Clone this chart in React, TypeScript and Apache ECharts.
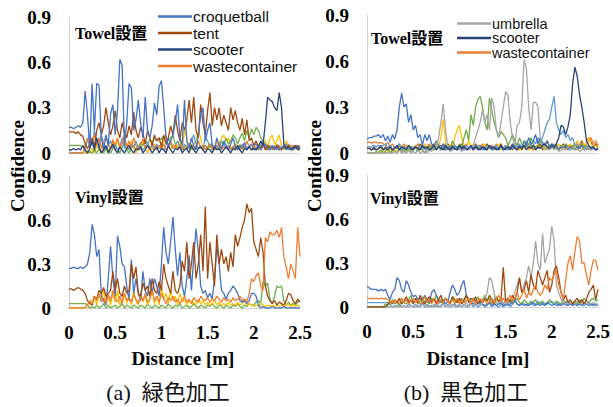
import React, { useEffect, useRef } from "react";
import * as echarts from "echarts";

// ---- axis / text data ----
const DIST_STEP = 0.025; // m between samples
const X_TICKS = [0, 0.5, 1, 1.5, 2, 2.5];
const Y_TICKS = [0, 0.3, 0.6, 0.9];
const PANEL_LABELS = ["Towel設置", "Vinyl設置", "Towel設置", "Vinyl設置"];
const LEGEND_A = ["croquetball", "tent", "scooter", "wastecontainer"];
const LEGEND_B = ["umbrella", "scooter", "wastecontainer"];
const CAPTIONS = ["(a)  緑色加工", "(b)  黒色加工"];

// ---- (a) green, Towel ----
const A_croquetball = [
  0.17, 0.17, 0.16, 0.17, 0.18, 0.17, 0.2, 0.41, 0.25, 0.03,
  0.46, 0.15, 0.46, 0.45, 0.1, 0.02, 0.12, 0.05, 0.26, 0.32,
  0.12, 0.28, 0.62, 0.58, 0.05, 0.2, 0.46, 0.43, 0.15, 0.22,
  0.35, 0.2, 0.1, 0.37, 0.15, 0.1, 0.18, 0.33, 0.25, 0.44,
  0.48, 0.3, 0.1, 0.05, 0.08, 0.12, 0.2, 0.32, 0.1, 0.05,
  0.35, 0.08, 0.03, 0.1, 0.05, 0.02, 0.12, 0.25, 0.3, 0.08,
  0.15, 0.2, 0.05, 0.02, 0.1, 0.05, 0.03, 0.08, 0.05, 0.02,
  0.06, 0.1, 0.04, 0.02, 0.05, 0.03, 0.07, 0.02, 0.04, 0.06,
  0.02, 0.03, 0.05, 0.02, 0.04, 0.06, 0.03, 0.02, 0.05, 0.03,
  0.04, 0.02, 0.03, 0.05, 0.02, 0.04, 0.03, 0.02, 0.04, 0.03,
  0.04,
];
const A_tent = [
  0.14, 0.14, 0.14, 0.13, 0.14, 0.12, 0.11, 0.06, 0.03, 0.06,
  0.1, 0.04, 0.15, 0.2, 0.12, 0.18, 0.3, 0.2, 0.12, 0.18,
  0.28, 0.15, 0.1, 0.2, 0.14, 0.1, 0.18, 0.12, 0.27, 0.15,
  0.1, 0.17, 0.13, 0.06, 0.15, 0.1, 0.05, 0.12, 0.08, 0.1,
  0.04, 0.12, 0.06, 0.1, 0.18, 0.12, 0.25, 0.15, 0.08, 0.2,
  0.15, 0.22, 0.35, 0.2, 0.37, 0.15, 0.1, 0.32, 0.2, 0.12,
  0.28, 0.4, 0.18, 0.3, 0.22, 0.3, 0.18, 0.25, 0.2, 0.15,
  0.3, 0.22, 0.28, 0.2, 0.15, 0.23, 0.12, 0.22, 0.08, 0.1,
  0.05, 0.08, 0.04, 0.03, 0.06, 0.02, 0.05, 0.03, 0.04, 0.02,
  0.05, 0.03, 0.02, 0.04, 0.03, 0.05, 0.02, 0.04, 0.03, 0.05,
  0.03,
];
const A_scooter = [
  0.02, 0.02, 0.03, 0.02, 0.03, 0.02, 0.05, 0.02, 0, 0.03,
  0.08, 0.02, 0.1, 0.04, 0, 0.02, 0.05, 0, 0.03, 0.06,
  0.02, 0, 0.04, 0.02, 0, 0.03, 0.05, 0.02, 0, 0.03,
  0.02, 0.04, 0, 0.02, 0.05, 0.03, 0, 0.02, 0.04, 0,
  0.03, 0.02, 0, 0.05, 0.02, 0, 0.03, 0.02, 0.04, 0,
  0.02, 0.03, 0, 0.05, 0.02, 0, 0.03, 0.04, 0.02, 0,
  0.03, 0.02, 0, 0.04, 0.02, 0.03, 0, 0.02, 0.04, 0.02,
  0, 0.03, 0.02, 0.05, 0.02, 0, 0.03, 0.02, 0.04, 0.02,
  0.03, 0.02, 0.04, 0.08, 0.05, 0.2, 0.37, 0.35, 0.34, 0.3,
  0.28, 0.4, 0.3, 0.06, 0.03, 0.04, 0.02, 0.03, 0.05, 0.02,
  0.03,
];
const A_wastecontainer = [
  0, 0, 0, 0, 0, 0, 0, 0.05, 0.1, 0.04,
  0.08, 0.12, 0.05, 0.1, 0.03, 0.08, 0.1, 0.06, 0.02, 0.09,
  0.05, 0.1, 0.03, 0.07, 0.12, 0.04, 0.08, 0.03, 0.1, 0.05,
  0.02, 0.06, 0.09, 0.03, 0.05, 0.02, 0.07, 0.04, 0.02, 0.05,
  0.03, 0.06, 0.02, 0.04, 0.08, 0.03, 0.05, 0.02, 0.06, 0.03,
  0.02, 0.05, 0.03, 0.06, 0.02, 0.04, 0.08, 0.03, 0.05, 0.02,
  0.04, 0.06, 0.02, 0.05, 0.03, 0.07, 0.02, 0.04, 0.03, 0.05,
  0.02, 0.04, 0.06, 0.03, 0.02, 0.05, 0.03, 0.08, 0.04, 0.02,
  0.05, 0.03, 0.02, 0.04, 0.06, 0.03, 0.02, 0.05, 0.04, 0.03,
  0.06, 0.04, 0.02, 0.05, 0.03, 0.06, 0.04, 0.05, 0.03, 0.04,
  0.05,
];
const A_green = [
  0.05, 0.05, 0.05, 0.05, 0.05, 0.05, 0.04, 0.02, 0, 0.01,
  0, 0.02, 0, 0.03, 0.01, 0, 0.04, 0.02, 0, 0.03,
  0.05, 0.02, 0, 0.04, 0.06, 0.02, 0, 0.03, 0.05, 0.02,
  0.04, 0.07, 0.05, 0.08, 0.06, 0.09, 0.07, 0.1, 0.08, 0.1,
  0.09, 0.11, 0.1, 0.08, 0.1, 0.12, 0.06, 0.03, 0.05, 0.02,
  0.04, 0.02, 0.06, 0.03, 0.02, 0.05, 0.03, 0.04, 0.02, 0.05,
  0.03, 0.06, 0.04, 0.02, 0.05, 0.03, 0.08, 0.05, 0.1, 0.06,
  0.08, 0.12, 0.1, 0.06, 0.1, 0.13, 0.08, 0.15, 0.1, 0.16,
  0.12, 0.17, 0.15, 0.1, 0.08, 0.05, 0.03, 0.04, 0.02, 0.05,
  0.03, 0.02, 0.04, 0.03, 0.05, 0.02, 0.04, 0.03, 0.05, 0.04,
  0.03,
];
const A_yellow = [
  0, 0, 0, 0, 0, 0, 0, 0, 0.02, 0,
  0.03, 0, 0.05, 0.02, 0, 0.06, 0.02, 0, 0.04, 0.08,
  0.02, 0.1, 0.03, 0.06, 0.1, 0.02, 0.05, 0.08, 0.03, 0,
  0.05, 0.02, 0.07, 0.03, 0, 0.04, 0.02, 0.06, 0.03, 0.05,
  0.02, 0.08, 0.12, 0.04, 0.02, 0.06, 0.03, 0.05, 0.08, 0.02,
  0.15, 0.1, 0.04, 0.02, 0.06, 0.08, 0.15, 0.1, 0.03, 0.05,
  0.02, 0.04, 0.06, 0.03, 0.08, 0.05, 0.1, 0.12, 0.08, 0.1,
  0.04, 0.02, 0.05, 0.03, 0.06, 0.02, 0.04, 0.03, 0.05, 0.02,
  0.04, 0.02, 0.06, 0.03, 0.05, 0.08, 0.04, 0.1, 0.12, 0.06,
  0.08, 0.12, 0.04, 0.02, 0.08, 0.05, 0.03, 0.02, 0.04, 0.03,
  0.02,
];
const A_lightblue = [
  0, 0, 0, 0, 0, 0, 0, 0.03, 0.08, 0.12,
  0.05, 0.15, 0.08, 0.03, 0.12, 0.06, 0.02, 0.05, 0.08, 0.03,
  0.06, 0.02, 0.04, 0.1, 0.03, 0.05, 0.02, 0.06, 0.04, 0.08,
  0.03, 0.05, 0.02, 0.04, 0.07, 0.03, 0.05, 0.02, 0.06, 0.03,
  0.04, 0.02, 0.05, 0.1, 0.06, 0.03, 0.05, 0.08, 0.04, 0.02,
  0.06, 0.03, 0.05, 0.08, 0.12, 0.06, 0.03, 0.05, 0.02, 0.1,
  0.08, 0.04, 0.06, 0.03, 0.05, 0.02, 0.04, 0.06, 0.03, 0.05,
  0.02, 0.04, 0.03, 0.05, 0.02, 0.06, 0.04, 0.03, 0.05, 0.02,
  0.04, 0.06, 0.03, 0.05, 0.08, 0.04, 0.02, 0.05, 0.03, 0.04,
  0.02, 0.05, 0.03, 0.04, 0.06, 0.02, 0.05, 0.03, 0.04, 0.05,
  0.03,
];

// ---- (a) green, Vinyl ----
const B_croquetball = [
  0.27, 0.27, 0.28, 0.27, 0.27, 0.28, 0.27, 0.28, 0.3, 0.38,
  0.57, 0.5, 0.35, 0.4, 0.08, 0.05, 0.02, 0.2, 0.42, 0.2,
  0.08, 0.49, 0.42, 0.3, 0.28, 0.15, 0.05, 0.33, 0.1, 0.2,
  0.1, 0.05, 0.25, 0.12, 0.08, 0.2, 0.1, 0.2, 0.15, 0.08,
  0.3, 0.55, 0.38, 0.3, 0.45, 0.62, 0.4, 0.22, 0.38, 0.15,
  0.08, 0.2, 0.36, 0.12, 0.35, 0.54, 0.38, 0.15, 0.1, 0.12,
  0.07, 0.1, 0.06, 0.2, 0.42, 0.3, 0.12, 0.1, 0.06, 0.1,
  0.12, 0.15, 0.13, 0.1, 0.05, 0.04, 0.05, 0.03, 0.05, 0.1,
  0.1, 0.08, 0.02, 0, 0.01, 0, 0, 0, 0.01, 0,
  0, 0, 0, 0.01, 0, 0, 0, 0, 0, 0,
  0,
];
const B_tent = [
  0.13, 0.13, 0.12, 0.13, 0.14, 0.13, 0.12, 0.1, 0.05, 0.03,
  0.02, 0.08, 0.06, 0.12, 0.1, 0.14, 0.08, 0.1, 0.12, 0.25,
  0.12, 0.2, 0.1, 0.08, 0.15, 0.1, 0.12, 0.3, 0.2, 0.28,
  0.1, 0.08, 0.17, 0.12, 0.15, 0.08, 0.2, 0.12, 0.1, 0.18,
  0.12, 0.3, 0.2, 0.15, 0.1, 0.25, 0.12, 0.1, 0.15, 0.32,
  0.25, 0.45, 0.2, 0.3, 0.45, 0.2, 0.3, 0.5, 0.25, 0.69,
  0.2, 0.45, 0.3, 0.15, 0.5, 0.3, 0.4, 0.3, 0.35, 0.25,
  0.38, 0.28, 0.5, 0.42, 0.48, 0.55, 0.6, 0.71, 0.65, 0.68,
  0.45, 0.4, 0.35, 0.48, 0.38, 0.15, 0.08, 0.05, 0.03, 0.05,
  0.02, 0.04, 0.03, 0.02, 0.05, 0.1, 0.09, 0.05, 0.03, 0.06,
  0.04,
];
const B_wastecontainer = [
  0, 0, 0, 0, 0, 0, 0, 0, 0.02, 0.05,
  0.03, 0.08, 0.05, 0.1, 0.04, 0.07, 0.03, 0.09, 0.05, 0.12,
  0.06, 0.04, 0.08, 0.03, 0.1, 0.05, 0.07, 0.04, 0.09, 0.06,
  0.03, 0.08, 0.05, 0.1, 0.04, 0.06, 0.12, 0.05, 0.08, 0.04,
  0.1, 0.06, 0.03, 0.07, 0.05, 0.08, 0.04, 0.06, 0.03, 0.05,
  0.08, 0.04, 0.06, 0.03, 0.07, 0.05, 0.04, 0.08, 0.06, 0.05,
  0.07, 0.04, 0.06, 0.05, 0.08, 0.06, 0.04, 0.07, 0.05, 0.06,
  0.04, 0.07, 0.05, 0.06, 0.08, 0.05, 0.06, 0.04, 0.1, 0.2,
  0.18, 0.22, 0.24, 0.15, 0.12, 0.48, 0.45, 0.52, 0.5, 0.5,
  0.53, 0.48, 0.55, 0.35, 0.28, 0.2, 0.3, 0.25, 0.2, 0.55,
  0.35,
];
const B_yellow = [
  0, 0, 0, 0, 0, 0, 0, 0, 0.02, 0.05,
  0.03, 0.08, 0.02, 0.1, 0.05, 0.12, 0.03, 0.08, 0.02, 0.1,
  0.04, 0.12, 0.02, 0.06, 0.1, 0.03, 0.08, 0.02, 0.12, 0.05,
  0.02, 0.1, 0.04, 0.08, 0.02, 0.06, 0.12, 0.03, 0.08, 0.02,
  0.15, 0.06, 0.1, 0.03, 0.12, 0.05, 0.08, 0.02, 0.1, 0.04,
  0.06, 0.02, 0.05, 0.03, 0.04, 0.02, 0.06, 0.03, 0.05, 0.02,
  0.04, 0.02, 0.03, 0.05, 0.02, 0.04, 0.02, 0.03, 0.02, 0.04,
  0.02, 0.03, 0.02, 0.04, 0.02, 0.03, 0.05, 0.02, 0.03, 0.02,
  0.01, 0.02, 0.01, 0.03, 0.02, 0.01, 0.02, 0.01, 0.02, 0.01,
  0.02, 0.01, 0.02, 0.01, 0.02, 0.03, 0.01, 0.02, 0.01, 0.02,
  0.01,
];
const B_green = [
  0.03, 0.03, 0.03, 0.03, 0.03, 0.03, 0.03, 0.03, 0.02, 0,
  0.01, 0, 0.02, 0, 0.01, 0.03, 0, 0.02, 0, 0.01,
  0.02, 0, 0.01, 0.03, 0, 0.02, 0.01, 0, 0.02, 0.01,
  0, 0.02, 0.01, 0, 0.03, 0.01, 0, 0.02, 0.01, 0,
  0.02, 0.01, 0, 0.03, 0.01, 0, 0.02, 0.01, 0.03, 0,
  0.01, 0.02, 0, 0.01, 0.03, 0.01, 0, 0.02, 0.01, 0,
  0.02, 0.01, 0.03, 0.01, 0, 0.02, 0.01, 0, 0.02, 0.01,
  0, 0.02, 0.01, 0.03, 0.01, 0, 0.02, 0.01, 0.03, 0.02,
  0.02, 0.04, 0.05, 0.03, 0.18, 0.15, 0.17, 0.06, 0.03, 0.08,
  0.15, 0.14, 0.15, 0.05, 0.02, 0.04, 0.02, 0.03, 0.02, 0.04,
  0.05,
];

// ---- (b) black, Towel ----
const C_blue = [
  0.09, 0.1, 0.1, 0.11, 0.11, 0.12, 0.1, 0.12, 0.08, 0.11,
  0.07, 0.12, 0.09, 0.15, 0.3, 0.39, 0.3, 0.32, 0.2, 0.25,
  0.15, 0.18, 0.1, 0.12, 0.05, 0.12, 0.08, 0.12, 0.06, 0.04,
  0.08, 0.05, 0.03, 0.06, 0.02, 0.04, 0.03, 0.05, 0.02, 0.04,
  0.03, 0.02, 0.05, 0.03, 0.02, 0.04, 0.03, 0.05, 0.02, 0.03,
  0.04, 0.02, 0.03, 0.05, 0.02, 0.04, 0.03, 0.02, 0.05, 0.03,
  0.02, 0.04, 0.03, 0.06, 0.04, 0.02, 0.05, 0.03, 0.08, 0.05,
  0.1, 0.06, 0.08, 0.12, 0.06, 0.1, 0.07, 0.05, 0.08, 0.04,
  0.06, 0.03, 0.05, 0.02, 0.04, 0.03, 0.05, 0.02, 0.04, 0.03,
  0.02, 0.04, 0.03, 0.05, 0.02, 0.03, 0.04, 0.02, 0.03, 0.02,
  0.03,
];
const C_umbrella = [
  0, 0, 0, 0, 0, 0, 0, 0, 0, 0,
  0, 0, 0.01, 0, 0.02, 0, 0.01, 0, 0.02, 0,
  0.01, 0, 0.02, 0, 0.01, 0.03, 0, 0.02, 0.01, 0.05,
  0.03, 0.1, 0.2, 0.32, 0.15, 0.03, 0.01, 0.02, 0.04, 0.02,
  0.03, 0.01, 0.02, 0.04, 0.02, 0.03, 0.05, 0.1, 0.15, 0.2,
  0.28, 0.2, 0.25, 0.15, 0.36, 0.3, 0.15, 0.1, 0.2, 0.3,
  0.4, 0.38, 0.2, 0.1, 0.05, 0.18, 0.2, 0.3, 0.61, 0.55,
  0.3, 0.15, 0.33, 0.33, 0.3, 0.1, 0.04, 0.02, 0.03, 0.02,
  0.04, 0.02, 0.03, 0.01, 0.02, 0.03, 0.02, 0.04, 0.02, 0.03,
  0.02, 0.03, 0.01, 0.02, 0.03, 0.02, 0.04, 0.02, 0.03, 0.02,
  0.03,
];
const C_green = [
  0, 0, 0, 0, 0.01, 0, 0.02, 0, 0.01, 0.03,
  0, 0.02, 0.01, 0, 0.03, 0.01, 0.02, 0, 0.03, 0.01,
  0.02, 0.04, 0.01, 0.03, 0.02, 0, 0.04, 0.02, 0.05, 0.02,
  0.03, 0.05, 0.02, 0.06, 0.03, 0.05, 0.02, 0.08, 0.05, 0.03,
  0.06, 0.04, 0.1, 0.15, 0.08, 0.25, 0.18, 0.3, 0.35, 0.37,
  0.3, 0.2, 0.15, 0.36, 0.28, 0.2, 0.15, 0.1, 0.14, 0.12,
  0.1, 0.05, 0.08, 0.12, 0.08, 0.05, 0.1, 0.06, 0.04, 0.08,
  0.05, 0.1, 0.06, 0.03, 0.05, 0.08, 0.04, 0.06, 0.03, 0.05,
  0.03, 0.06, 0.04, 0.02, 0.05, 0.03, 0.06, 0.04, 0.02, 0.05,
  0.03, 0.02, 0.04, 0.06, 0.03, 0.05, 0.02, 0.04, 0.03, 0.02,
  0.03,
];
const C_yellow = [
  0, 0, 0, 0, 0, 0.01, 0, 0.02, 0, 0.01,
  0.03, 0, 0.02, 0.01, 0.04, 0, 0.02, 0.05, 0.01, 0.03,
  0.02, 0.05, 0.01, 0.04, 0.02, 0.06, 0.03, 0.02, 0.05, 0.03,
  0.06, 0.04, 0.1, 0.22, 0.08, 0.04, 0.06, 0.03, 0.1, 0.15,
  0.18, 0.1, 0.05, 0.03, 0.08, 0.04, 0.06, 0.03, 0.05, 0.02,
  0.04, 0.06, 0.03, 0.05, 0.02, 0.04, 0.03, 0.06, 0.02, 0.04,
  0.03, 0.05, 0.02, 0.04, 0.06, 0.03, 0.02, 0.05, 0.03, 0.04,
  0.02, 0.03, 0.05, 0.02, 0.04, 0.03, 0.06, 0.02, 0.04, 0.03,
  0.05, 0.02, 0.04, 0.06, 0.03, 0.05, 0.02, 0.04, 0.06, 0.03,
  0.05, 0.08, 0.04, 0.02, 0.06, 0.05, 0.1, 0.06, 0.04, 0.05,
  0.03,
];
const C_scooter = [
  0.03, 0.03, 0.02, 0.03, 0.02, 0.03, 0.04, 0.02, 0.03, 0.02,
  0.04, 0.02, 0.03, 0.05, 0.02, 0.04, 0.03, 0.02, 0.05, 0.03,
  0.02, 0.04, 0.03, 0.02, 0.05, 0.03, 0.04, 0.02, 0.03, 0.05,
  0.02, 0.04, 0.03, 0.02, 0.05, 0.03, 0.02, 0.04, 0.03, 0.02,
  0.05, 0.03, 0.04, 0.02, 0.03, 0.05, 0.02, 0.04, 0.03, 0.02,
  0.04, 0.03, 0.02, 0.05, 0.03, 0.04, 0.02, 0.03, 0.05, 0.02,
  0.03, 0.04, 0.02, 0.05, 0.03, 0.02, 0.04, 0.03, 0.05, 0.02,
  0.04, 0.03, 0.05, 0.02, 0.04, 0.03, 0.05, 0.06, 0.04, 0.03,
  0.05, 0.04, 0.06, 0.1, 0.18, 0.17, 0.12, 0.17, 0.25, 0.45,
  0.56, 0.5, 0.38, 0.3, 0.2, 0.08, 0.05, 0.03, 0.04, 0.02,
  0.03,
];
const C_lightblue = [
  0.04, 0.04, 0.04, 0.05, 0.04, 0.05, 0.04, 0.05, 0.06, 0.03,
  0.05, 0.02, 0.04, 0.03, 0.06, 0.02, 0.04, 0.03, 0.05, 0.02,
  0.04, 0.03, 0.02, 0.05, 0.03, 0.04, 0.02, 0.03, 0.05, 0.02,
  0.03, 0.04, 0.02, 0.05, 0.03, 0.02, 0.04, 0.03, 0.05, 0.02,
  0.04, 0.03, 0.02, 0.05, 0.03, 0.04, 0.02, 0.03, 0.05, 0.04,
  0.02, 0.03, 0.05, 0.04, 0.02, 0.03, 0.05, 0.02, 0.04, 0.03,
  0.05, 0.02, 0.04, 0.03, 0.05, 0.04, 0.06, 0.03, 0.05, 0.04,
  0.06, 0.05, 0.08, 0.06, 0.1, 0.07, 0.1, 0.15, 0.2, 0.22,
  0.3, 0.37, 0.2, 0.15, 0.12, 0.15, 0.1, 0.12, 0.08, 0.1,
  0.05, 0.06, 0.03, 0.05, 0.04, 0.02, 0.05, 0.03, 0.04, 0.02,
  0.03,
];
const C_wastecontainer = [
  0.07, 0.07, 0.065, 0.07, 0.07, 0.065, 0.07, 0.06, 0.05, 0.07,
  0.04, 0.06, 0.03, 0.05, 0.02, 0.04, 0.06, 0.03, 0.05, 0.02,
  0.04, 0.03, 0.06, 0.02, 0.05, 0.03, 0.04, 0.06, 0.02, 0.04,
  0.03, 0.05, 0.02, 0.04, 0.06, 0.03, 0.02, 0.05, 0.03, 0.04,
  0.02, 0.05, 0.03, 0.06, 0.02, 0.04, 0.03, 0.05, 0.02, 0.04,
  0.06, 0.03, 0.02, 0.04, 0.05, 0.03, 0.06, 0.02, 0.04, 0.03,
  0.05, 0.02, 0.04, 0.06, 0.03, 0.05, 0.02, 0.04, 0.03, 0.05,
  0.03, 0.06, 0.02, 0.04, 0.05, 0.03, 0.06, 0.04, 0.02, 0.05,
  0.03, 0.04, 0.06, 0.02, 0.05, 0.03, 0.06, 0.04, 0.05, 0.03,
  0.06, 0.04, 0.05, 0.07, 0.04, 0.06, 0.08, 0.1, 0.06, 0.08,
  0.05,
];
const C_brown = [
  0.03, 0.03, 0.02, 0.04, 0.02, 0.03, 0.05, 0.02, 0.04, 0.03,
  0.05, 0.02, 0.04, 0.03, 0.06, 0.02, 0.04, 0.05, 0.02, 0.04,
  0.03, 0.05, 0.02, 0.06, 0.03, 0.04, 0.02, 0.05, 0.03, 0.06,
  0.02, 0.04, 0.05, 0.03, 0.02, 0.06, 0.04, 0.02, 0.05, 0.03,
  0.04, 0.06, 0.02, 0.05, 0.03, 0.04, 0.02, 0.06, 0.03, 0.05,
  0.02, 0.04, 0.06, 0.03, 0.05, 0.02, 0.04, 0.03, 0.06, 0.02,
  0.05, 0.03, 0.04, 0.02, 0.06, 0.03, 0.05, 0.02, 0.04, 0.06,
  0.03, 0.05, 0.02, 0.04, 0.03, 0.06, 0.02, 0.05, 0.08, 0.04,
  0.06, 0.03, 0.05, 0.02, 0.04, 0.06, 0.03, 0.05, 0.02, 0.04,
  0.06, 0.03, 0.05, 0.08, 0.04, 0.06, 0.1, 0.07, 0.04, 0.06,
  0.03,
];

// ---- (b) black, Vinyl ----
const D_blue = [
  0.14, 0.13, 0.12, 0.12, 0.12, 0.11, 0.12, 0.11, 0.12, 0.08,
  0.05, 0.1, 0.12, 0.2, 0.18, 0.12, 0.1, 0.18, 0.15, 0.1,
  0.07, 0.08, 0.05, 0.06, 0.04, 0.08, 0.05, 0.03, 0.1, 0.12,
  0.08, 0.05, 0.03, 0.05, 0.02, 0.04, 0.1, 0.15, 0.12, 0.08,
  0.1, 0.15, 0.18, 0.08, 0.05, 0.03, 0.02, 0.04, 0.02, 0.03,
  0.02, 0.01, 0.02, 0.03, 0.01, 0.02, 0.01, 0.02, 0.03, 0.01,
  0.02, 0.01, 0.02, 0.03, 0.05, 0.02, 0.01, 0.02, 0.01, 0.02,
  0.01, 0.02, 0.03, 0.01, 0.02, 0.01, 0.02, 0.01, 0.03, 0.02,
  0.01, 0.02, 0.01, 0.02, 0.01, 0.02, 0.03, 0.01, 0.02, 0.01,
  0.02, 0.01, 0.02, 0.01, 0.03, 0.02, 0.01, 0.02, 0.01, 0.02,
  0.01,
];
const D_umbrella = [
  0, 0, 0, 0, 0, 0, 0, 0, 0, 0,
  0, 0, 0, 0.01, 0, 0, 0.01, 0, 0, 0.01,
  0, 0, 0.01, 0, 0.02, 0, 0, 0.01, 0, 0.02,
  0, 0.01, 0, 0.02, 0, 0.01, 0, 0.02, 0, 0.01,
  0.02, 0, 0.01, 0.03, 0, 0.02, 0.01, 0.03, 0.02, 0.01,
  0.03, 0.05, 0.1, 0.2, 0.18, 0.1, 0.02, 0.03, 0.05, 0.02,
  0.04, 0.03, 0.05, 0.05, 0.1, 0.15, 0.2, 0.1, 0.15, 0.2,
  0.28, 0.2, 0.3, 0.45, 0.3, 0.25, 0.5, 0.3, 0.35, 0.4,
  0.55, 0.45, 0.15, 0.1, 0.05, 0.03, 0.02, 0.04, 0.02, 0.03,
  0.02, 0.04, 0.03, 0.02, 0.03, 0.02, 0.04, 0.02, 0.03, 0.02,
  0.02,
];
const D_brown = [
  0, 0, 0, 0, 0, 0, 0, 0, 0, 0.02,
  0.04, 0.02, 0.05, 0.03, 0.06, 0.02, 0.04, 0.07, 0.03, 0.05,
  0.02, 0.06, 0.03, 0.08, 0.04, 0.02, 0.05, 0.07, 0.03, 0.06,
  0.02, 0.05, 0.08, 0.03, 0.06, 0.04, 0.02, 0.07, 0.05, 0.03,
  0.06, 0.02, 0.05, 0.08, 0.03, 0.06, 0.04, 0.07, 0.02, 0.05,
  0.03, 0.06, 0.04, 0.08, 0.05, 0.02, 0.06, 0.04, 0.05, 0.27,
  0.04, 0.06, 0.03, 0.08, 0.05, 0.1, 0.2, 0.1, 0.12, 0.18,
  0.1, 0.22, 0.15, 0.12, 0.25, 0.2, 0.15, 0.2, 0.25, 0.1,
  0.15, 0.25, 0.28, 0.2, 0.1, 0.05, 0.08, 0.03, 0.05, 0.02,
  0.04, 0.06, 0.03, 0.05, 0.02, 0.05, 0.1, 0.12, 0.15, 0.05,
  0.12,
];
const D_wastecontainer = [
  0.06, 0.055, 0.06, 0.055, 0.06, 0.055, 0.06, 0.055, 0.06, 0.05,
  0.04, 0.03, 0.05, 0.02, 0.04, 0.06, 0.03, 0.05, 0.02, 0.04,
  0.06, 0.03, 0.05, 0.02, 0.04, 0.07, 0.03, 0.05, 0.02, 0.06,
  0.04, 0.02, 0.05, 0.03, 0.06, 0.04, 0.02, 0.05, 0.03, 0.06,
  0.02, 0.05, 0.03, 0.04, 0.06, 0.02, 0.05, 0.03, 0.04, 0.06,
  0.03, 0.05, 0.02, 0.04, 0.06, 0.03, 0.05, 0.08, 0.04, 0.06,
  0.03, 0.05, 0.08, 0.04, 0.06, 0.1, 0.05, 0.08, 0.12, 0.06,
  0.1, 0.08, 0.12, 0.15, 0.1, 0.08, 0.1, 0.15, 0.12, 0.2,
  0.18, 0.22, 0.25, 0.15, 0.1, 0.05, 0.18, 0.3, 0.35, 0.25,
  0.38, 0.48, 0.45, 0.3, 0.3, 0.22, 0.15, 0.25, 0.32, 0.32,
  0.25,
];
const D_green = [
  0, 0, 0, 0, 0, 0, 0, 0, 0.02, 0.01,
  0.03, 0.05, 0.02, 0.04, 0.01, 0.06, 0.03, 0.02, 0.05, 0.08,
  0.03, 0.06, 0.02, 0.04, 0.07, 0.03, 0.05, 0.02, 0.06, 0.04,
  0.08, 0.03, 0.05, 0.02, 0.06, 0.04, 0.03, 0.07, 0.02, 0.05,
  0.04, 0.06, 0.03, 0.08, 0.05, 0.02, 0.06, 0.04, 0.07, 0.03,
  0.05, 0.08, 0.04, 0.06, 0.02, 0.05, 0.07, 0.03, 0.05, 0.02,
  0.04, 0.03, 0.05, 0.02, 0.04, 0.06, 0.03, 0.02, 0.05, 0.03,
  0.02, 0.04, 0.03, 0.05, 0.02, 0.03, 0.04, 0.02, 0.03, 0.05,
  0.03, 0.02, 0.04, 0.03, 0.02, 0.05, 0.03, 0.04, 0.02, 0.03,
  0.04, 0.02, 0.05, 0.03, 0.06, 0.04, 0.03, 0.05, 0.06, 0.04,
  0.05,
];
const D_lightblue = [
  0.03, 0.03, 0.03, 0.03, 0.03, 0.03, 0.03, 0.03, 0.03, 0.03,
  0.02, 0, 0.01, 0, 0.02, 0, 0.01, 0, 0.02, 0.01,
  0, 0.02, 0, 0.01, 0.03, 0, 0.02, 0, 0.01, 0,
  0.02, 0, 0.01, 0.03, 0, 0.02, 0, 0.01, 0.02, 0,
  0.01, 0, 0.02, 0, 0.01, 0.03, 0, 0.02, 0, 0.01,
  0.02, 0, 0.01, 0.03, 0, 0.02, 0.01, 0, 0.02, 0,
  0.01, 0.03, 0, 0.02, 0.04, 0.02, 0.01, 0.03, 0.02, 0.01,
  0.02, 0.03, 0.01, 0.02, 0.04, 0.02, 0.03, 0.01, 0.02, 0.03,
  0.04, 0.02, 0.03, 0.01, 0.02, 0.03, 0.01, 0.02, 0.03, 0.01,
  0.02, 0.01, 0.03, 0.02, 0.01, 0.02, 0.03, 0.01, 0.02, 0.01,
  0.02,
];

// ---- colours (Excel palette) ----
const COL = {
  blue: "#4472C4",
  orange: "#ED7D31",
  gray: "#A5A5A5",
  yellow: "#FFC000",
  lightblue: "#5B9BD5",
  green: "#70AD47",
  navy: "#264478",
  brown: "#9E480E",
};

type S = { name: string; data: number[]; color: string; panel: number };
const SERIES: S[] = [
  // panel 0 : (a) Towel
  { name: "yellow", data: A_yellow, color: COL.yellow, panel: 0 },
  { name: "green", data: A_green, color: COL.green, panel: 0 },
  { name: "lightblue", data: A_lightblue, color: COL.lightblue, panel: 0 },
  { name: "wastecontainer", data: A_wastecontainer, color: COL.orange, panel: 0 },
  { name: "tent", data: A_tent, color: COL.brown, panel: 0 },
  { name: "croquetball", data: A_croquetball, color: COL.blue, panel: 0 },
  { name: "scooter", data: A_scooter, color: COL.navy, panel: 0 },
  // panel 1 : (a) Vinyl
  { name: "green", data: B_green, color: COL.green, panel: 1 },
  { name: "yellow", data: B_yellow, color: COL.yellow, panel: 1 },
  { name: "croquetball", data: B_croquetball, color: COL.blue, panel: 1 },
  { name: "tent", data: B_tent, color: COL.brown, panel: 1 },
  { name: "wastecontainer", data: B_wastecontainer, color: COL.orange, panel: 1 },
  // panel 2 : (b) Towel
  { name: "brown", data: C_brown, color: COL.brown, panel: 2 },
  { name: "wastecontainer", data: C_wastecontainer, color: COL.orange, panel: 2 },
  { name: "yellow", data: C_yellow, color: COL.yellow, panel: 2 },
  { name: "lightblue", data: C_lightblue, color: COL.lightblue, panel: 2 },
  { name: "green", data: C_green, color: COL.green, panel: 2 },
  { name: "blue", data: C_blue, color: COL.blue, panel: 2 },
  { name: "umbrella", data: C_umbrella, color: COL.gray, panel: 2 },
  { name: "scooter", data: C_scooter, color: COL.navy, panel: 2 },
  // panel 3 : (b) Vinyl
  { name: "lightblue", data: D_lightblue, color: COL.lightblue, panel: 3 },
  { name: "green", data: D_green, color: COL.green, panel: 3 },
  { name: "blue", data: D_blue, color: COL.blue, panel: 3 },
  { name: "umbrella", data: D_umbrella, color: COL.gray, panel: 3 },
  { name: "brown", data: D_brown, color: COL.brown, panel: 3 },
  { name: "wastecontainer", data: D_wastecontainer, color: COL.orange, panel: 3 },
];

const SERIF = "'Liberation Serif', 'Times New Roman', 'Noto Sans CJK JP', serif";
const SANS = "'Liberation Sans', Arial, sans-serif";

export default function App() {
  const ref = useRef<HTMLDivElement>(null);
  useEffect(() => {
    if (!ref.current) return;
    const chart = echarts.init(ref.current, null, { renderer: "svg" });

    const grids = [
      { left: 69, top: 17, width: 231, height: 136 },
      { left: 69, top: 176, width: 231, height: 132 },
      { left: 367, top: 15, width: 231, height: 138 },
      { left: 367, top: 175, width: 231, height: 132 },
    ];
    const axisLine = { show: true, lineStyle: { color: "#D0D0D0", width: 1 } };
    const xAxes = grids.map((_, i) => ({
      type: "value",
      gridIndex: i,
      min: X_TICKS[0],
      max: X_TICKS[X_TICKS.length - 1],
      interval: 0.5,
      axisLine,
      axisTick: { show: false },
      splitLine: { show: false },
      axisLabel: {
        show: i === 1 || i === 3,
        margin: 15,
        color: "#000",
        fontFamily: SERIF,
        fontWeight: "bold",
        fontSize: 19,
        formatter: (v: number) => String(v),
      },
    }));
    const yAxes = grids.map((_, i) => ({
      type: "value",
      gridIndex: i,
      min: Y_TICKS[0],
      max: Y_TICKS[Y_TICKS.length - 1],
      interval: 0.3,
      axisLine,
      axisTick: { show: false },
      splitLine: { show: false },
      axisLabel: {
        margin: 18,
        color: "#000",
        fontFamily: SERIF,
        fontWeight: "bold",
        fontSize: 19,
        formatter: (v: number) => (v === 0 ? "0" : v.toFixed(1)),
      },
    }));

    const series = SERIES.map((s) => ({
      type: "line",
      name: s.name,
      xAxisIndex: s.panel,
      yAxisIndex: s.panel,
      data: s.data.map((v, i) => [Math.round(i * DIST_STEP * 1000) / 1000, v]),
      showSymbol: false,
      symbol: "none",
      lineStyle: { color: s.color, width: 1.3 },
      itemStyle: { color: s.color },
      silent: true,
    }));

    const legendColorsA = [COL.blue, COL.brown, COL.navy, COL.orange];
    const legendColorsB = [COL.gray, COL.navy, COL.orange];
    const legendYA = [16.5, 33, 49.5, 66];
    const legendYB = [23.5, 38, 52.5];

    const graphic: any[] = [];
    LEGEND_A.forEach((n, i) => {
      graphic.push({ type: "line", shape: { x1: 158, y1: legendYA[i], x2: 192, y2: legendYA[i] }, style: { stroke: legendColorsA[i], lineWidth: 2.5 } });
      graphic.push({ type: "text", x: 193, y: legendYA[i], style: { text: n, fontFamily: SANS, fontSize: 15.5, fill: "#111", textVerticalAlign: "middle" } });
    });
    LEGEND_B.forEach((n, i) => {
      graphic.push({ type: "line", shape: { x1: 457, y1: legendYB[i], x2: 491, y2: legendYB[i] }, style: { stroke: legendColorsB[i], lineWidth: 2.5 } });
      graphic.push({ type: "text", x: 492, y: legendYB[i], style: { text: n, fontFamily: SANS, fontSize: 14.5, fill: "#111", textVerticalAlign: "middle" } });
    });
    const panelPos = [
      [75, 33],
      [75, 197],
      [371, 38],
      [370, 198],
    ];
    PANEL_LABELS.forEach((t, i) => {
      graphic.push({ type: "text", x: panelPos[i][0], y: panelPos[i][1], style: { text: t, fontFamily: SERIF, fontWeight: "bold", fontSize: 16, fill: "#000", textVerticalAlign: "middle" } });
    });
    [17.5, 314.5].forEach((x) => {
      graphic.push({ type: "text", x, y: 166, rotation: Math.PI / 2, style: { text: "Confidence", fontFamily: SERIF, fontWeight: "bold", fontSize: 19, fill: "#000", textAlign: "center", textVerticalAlign: "middle" } });
    });
    [183, 478].forEach((x) => {
      graphic.push({ type: "text", x, y: 358, style: { text: "Distance [m]", fontFamily: SERIF, fontWeight: "bold", fontSize: 19, fill: "#000", textAlign: "center", textVerticalAlign: "middle" } });
    });
    [168, 466].forEach((x, i) => {
      graphic.push({ type: "text", x, y: 392, style: { text: CAPTIONS[i], fontFamily: SERIF, fontSize: 22, fill: "#111", textAlign: "center", textVerticalAlign: "middle" } });
    });

    chart.setOption({
      animation: false,
      backgroundColor: "#fff",
      grid: grids,
      xAxis: xAxes,
      yAxis: yAxes,
      series,
      graphic,
    });
    return () => chart.dispose();
  }, []);
  return (
    <div
      ref={ref}
      style={{ position: "fixed", left: 0, top: 0, width: 613, height: 407, background: "#fff" }}
    />
  );
}
